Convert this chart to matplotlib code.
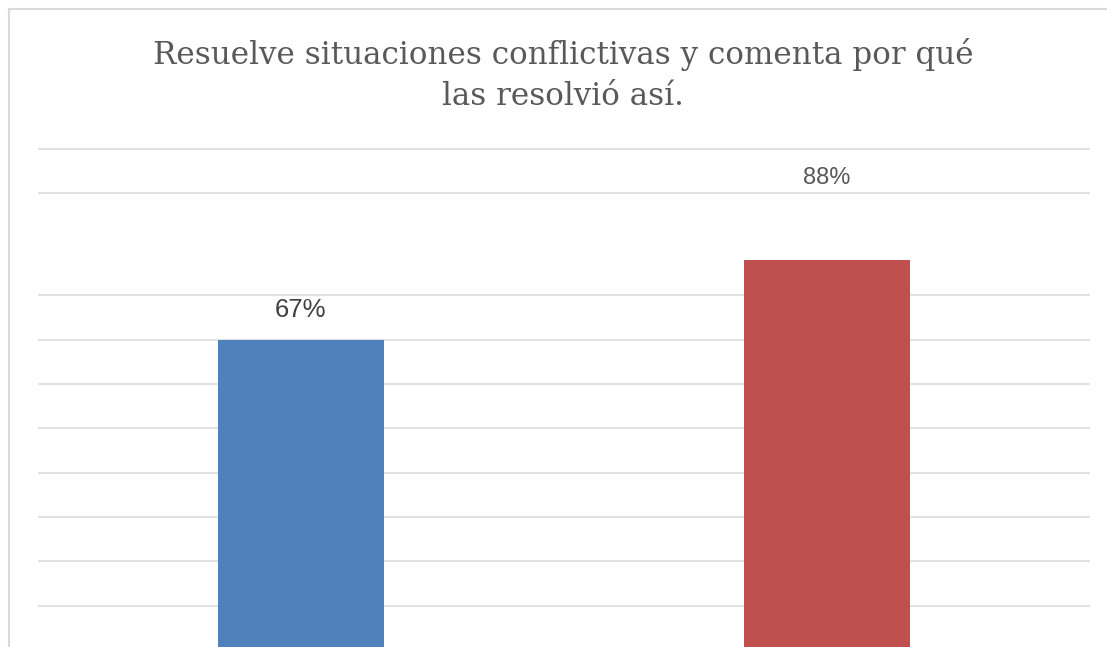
import matplotlib.pyplot as plt
from matplotlib.lines import Line2D

# 数据
categories = ["A", "B"]
bar_heights = [70, 88]          # altura de las barras
bar_labels = ["67%", "88%"]     # etiquetas de datos
grid_values = [10, 20, 30, 40, 50, 60, 70, 80, 103, 113]

title = "Resuelve situaciones conflictivas y comenta por qué\nlas resolvió así."

colors = ["#4F81BD", "#C0504D"]
label_pad = [6.7, 18.5]
label_colors = ["#404040", "#595959"]
label_sizes = [18.5, 17]

W, H = 1107, 647
fig = plt.figure(figsize=(W / 100, H / 100), dpi=100)

# ejes: y=0 justo debajo del borde inferior
ax = fig.add_axes([38 / W, -3 / H, 1052 / W, (H - 118 + 3) / H])
x = list(range(len(categories)))
ax.bar(x, bar_heights, width=0.314, color=colors, zorder=2)

for i, (h, lab) in enumerate(zip(bar_heights, bar_labels)):
    ax.text(i, h + label_pad[i], lab, ha="center", va="center",
            fontsize=label_sizes[i], color=label_colors[i],
            family="Liberation Sans", zorder=3)

ax.set_xlim(-0.5, 1.5)
ax.set_ylim(0, 120)
ax.set_yticks(grid_values)
ax.grid(axis="y", color="#d9d9d9", linewidth=1.1, zorder=0)
ax.tick_params(left=False, bottom=False, labelleft=False, labelbottom=False)
for s in ax.spines.values():
    s.set_visible(False)

# título
fig.text(563 / W, 1 - 75 / H, title, ha="center", va="center",
         fontsize=22.3, color="#595959", family="DejaVu Serif",
         linespacing=1.38)

# borde del gráfico
fig.add_artist(Line2D([8.5 / W, 1], [1 - 8.5 / H, 1 - 8.5 / H],
                      color="#d9d9d9", linewidth=1.5))
fig.add_artist(Line2D([8.5 / W, 8.5 / W], [0, 1 - 8.5 / H],
                      color="#d9d9d9", linewidth=1.5))

fig.savefig("out.png", dpi=100)
